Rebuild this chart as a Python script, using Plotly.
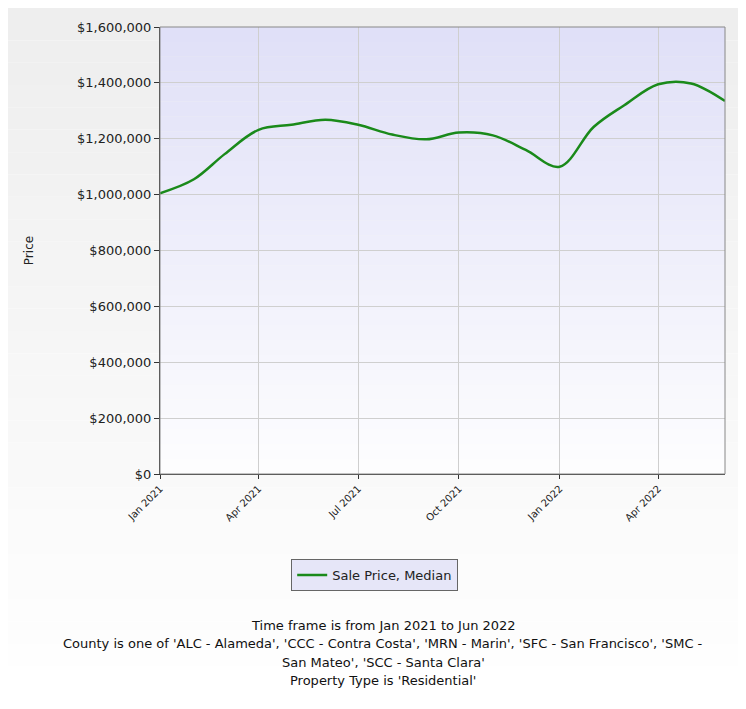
import plotly.graph_objects as go

months = ["2021-01-01", "2021-02-01", "2021-03-01", "2021-04-01", "2021-05-01", "2021-06-01",
          "2021-07-01", "2021-08-01", "2021-09-01", "2021-10-01", "2021-11-01", "2021-12-01",
          "2022-01-01", "2022-02-01", "2022-03-01", "2022-04-01", "2022-05-01", "2022-06-01"]
median_price = [1005000, 1055000, 1145000, 1232000, 1250000, 1268000,
                1250000, 1215000, 1198000, 1222000, 1212000, 1160000,
                1100000, 1242000, 1320000, 1395000, 1398000, 1335000]
y_ticks = [0, 200000, 400000, 600000, 800000, 1000000, 1200000, 1400000, 1600000]
y_labels = ["$0", "$200,000", "$400,000", "$600,000", "$800,000",
            "$1,000,000", "$1,200,000", "$1,400,000", "$1,600,000"]
x_ticks = ["2021-01-01", "2021-04-01", "2021-07-01", "2021-10-01", "2022-01-01", "2022-04-01"]
x_labels = ["Jan 2021", "Apr 2021", "Jul 2021", "Oct 2021", "Jan 2022", "Apr 2022"]

fig = go.Figure()
fig.add_trace(go.Scatter(x=months, y=median_price, mode="lines", name="Sale Price, Median",
                         line=dict(color="#1a8a1a", width=2.5, shape="spline", smoothing=1.0)))

# grey page top fading to white, then lavender plot gradient on top
shapes = []
n = 30
for i in range(n):
    t = i / n
    c = int(238 + (255 - 238) * t)
    shapes.append(dict(type="rect", xref="paper", yref="paper", x0=-0.3, x1=1.05,
                       y0=1.07 - (i + 1) * 0.05, y1=1.07 - i * 0.05, fillcolor=f"rgb({c},{c},{c})",
                       line_width=0, layer="below"))
for i in range(n):
    t = i / n
    r = int(224 + (255 - 224) * t)
    b = int(248 + (255 - 248) * t)
    shapes.append(dict(type="rect", xref="x domain", yref="y domain", x0=0, x1=1,
                       y0=1 - (i + 1) / n, y1=1 - i / n, fillcolor=f"rgb({r},{r},{b})",
                       line_width=0, layer="below"))
shapes.append(dict(type="rect", xref="x domain", yref="y domain", x0=0, x1=1, y0=0, y1=1,
                   line=dict(color="#888", width=1)))
fig.update_layout(shapes=shapes)

notes = ["Time frame is from Jan 2021 to Jun 2022",
         "County is one of 'ALC - Alameda', 'CCC - Contra Costa', 'MRN - Marin', 'SFC - San Francisco', 'SMC -",
         "San Mateo', 'SCC - Santa Clara'",
         "Property Type is 'Residential'"]
for i, txt in enumerate(notes):
    fig.add_annotation(text=txt, xref="paper", yref="paper", x=0.395, y=-0.36 - i * 0.041,
                       showarrow=False, xanchor="center",
                       font=dict(family="DejaVu Sans", size=13, color="#111"))

fig.update_layout(
    width=746, height=709, margin=dict(l=152, r=29, t=19, b=243),
    paper_bgcolor="white", plot_bgcolor="rgba(0,0,0,0)",
    font=dict(family="DejaVu Sans, Verdana", color="#222", size=13),
    showlegend=True,
    legend=dict(x=0.38, y=-0.19, xanchor="center", yanchor="top", bgcolor="#e6e6f8",
                bordercolor="#666", borderwidth=1, font=dict(size=13)),
    xaxis=dict(range=["2021-01-01", "2022-06-01"], tickvals=x_ticks, ticktext=x_labels,
               tickangle=-45, showgrid=True, gridcolor="#cfcfcf", ticks="outside",
               ticklen=4, tickcolor="#333", tickfont=dict(size=10), showline=True, linecolor="#333"),
    yaxis=dict(range=[0, 1600000], tickvals=y_ticks, ticktext=y_labels, showgrid=True,
               gridcolor="#cfcfcf", ticks="outside", ticklen=5, tickcolor="#333",
               tickfont=dict(size=13), showline=True, linecolor="#333",
               title=dict(text="Price", font=dict(size=12), standoff=40)),
)
fig.write_html("out.html")
